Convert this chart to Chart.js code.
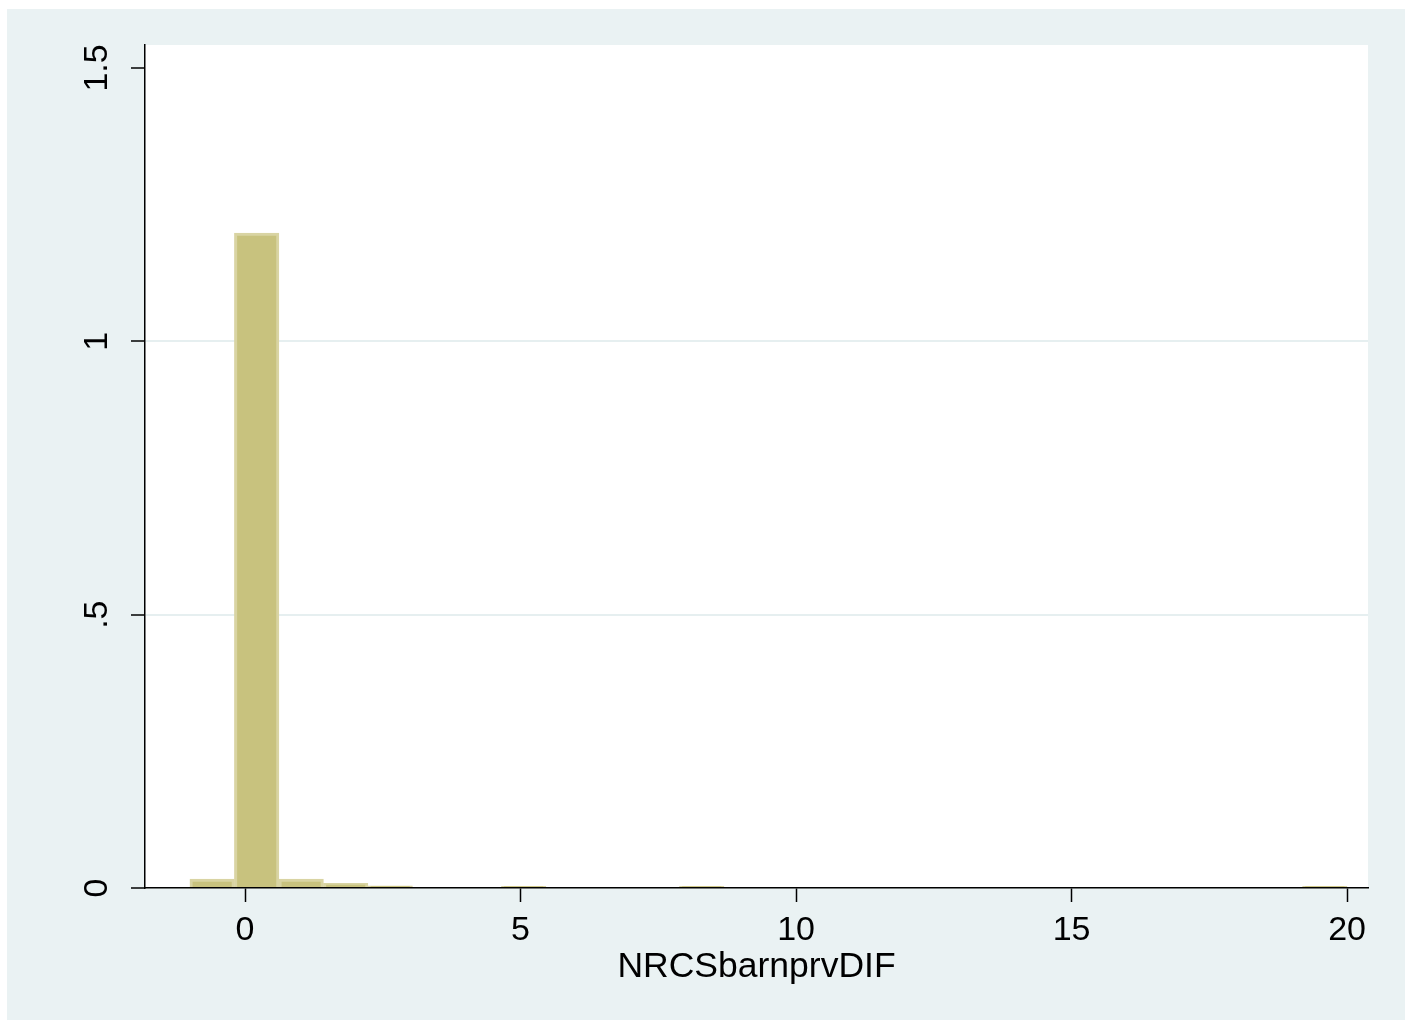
<!DOCTYPE html>
<html>
<head>
<meta charset="utf-8">
<script src="https://cdn.jsdelivr.net/npm/chart.js@4"></script>
<style>
  html, body { margin: 0; padding: 0; background: #ffffff; }
  #wrap { width: 1411px; height: 1021px; }
</style>
</head>
<body>
<div id="wrap"><canvas id="histChart" width="1411" height="1021"></canvas></div>
<script>
// histogram of NRCSbarnprvDIF: 26 bins from -1 to 20
const binStart = -1;
const binWidth = 21 / 26;
const density = [
  0.0165, 1.198, 0.0165, 0.0086, 0.004, 0, 0, 0.003, 0, 0,
  0, 0.003, 0, 0, 0, 0, 0, 0, 0, 0,
  0, 0, 0, 0, 0, 0.003
];
const xTicks = [0, 5, 10, 15, 20];
const yTicks = [0, 0.5, 1, 1.5];
const yTickLabels = ['0', '.5', '1', '1.5'];
const xTitle = 'NRCSbarnprvDIF';

const binCenters = density.map((d, i) => binStart + binWidth * (i + 0.5));

const panelBg = {
  id: 'panelBg',
  beforeDraw(chart) {
    const ctx = chart.ctx;
    const a = chart.chartArea;
    ctx.save();
    ctx.fillStyle = '#ffffff';
    ctx.fillRect(0, 0, chart.width, chart.height);
    ctx.fillStyle = '#eaf2f3';
    ctx.fillRect(7, 9, 1398, 1011);
    ctx.fillStyle = '#ffffff';
    ctx.fillRect(a.left, a.top, a.right - a.left, a.bottom - a.top);
    ctx.restore();
  }
};

const font = { family: '"Liberation Sans", Arial, sans-serif', size: 34 };

new Chart(document.getElementById('histChart').getContext('2d'), {
  type: 'bar',
  data: {
    datasets: [{
      data: binCenters.map((x, i) => ({ x: x, y: density[i] })),
      backgroundColor: '#c8c27e',
      borderColor: '#d9d4a3',
      borderWidth: 3,
      barPercentage: 1,
      categoryPercentage: 1
    }]
  },
  options: {
    responsive: false,
    animation: false,
    layout: { padding: { left: 0, top: 45, right: 43, bottom: 0 } },
    plugins: { legend: { display: false }, tooltip: { enabled: false } },
    scales: {
      x: {
        type: 'linear',
        min: -1.815,
        max: 20.38,
        offset: false,
        z: 1,
        afterFit: s => { s.height = 133; },
        afterBuildTicks: s => { s.ticks = xTicks.map(v => ({ value: v })); },
        grid: { offset: false, drawOnChartArea: false, drawTicks: true, tickLength: 14, tickColor: '#000', tickWidth: 1.5 },
        border: { display: true, color: '#000', width: 1.5 },
        ticks: { color: '#000', font: font, padding: 8, maxRotation: 0, autoSkip: false,
                 callback: v => String(v) },
        title: { display: true, text: xTitle, color: '#000',
                 font: { family: font.family, size: 35.5 }, padding: { top: 0, bottom: 32 } }
      },
      y: {
        type: 'linear',
        min: 0,
        max: 1.542,
        afterFit: s => { s.width = 145; },
        afterBuildTicks: s => { s.ticks = yTicks.map(v => ({ value: v })); },
        grid: {
          drawOnChartArea: true,
          color: c => (c.tick && (c.tick.value === 0.5 || c.tick.value === 1)) ? '#e6eff0' : 'rgba(0,0,0,0)',
          lineWidth: 2,
          drawTicks: true, tickLength: 14, tickColor: '#000', tickWidth: 1.5
        },
        border: { display: true, color: '#000', width: 1.5 },
        ticks: {
          color: '#000', font: font, padding: 10, autoSkip: false,
          minRotation: 90, maxRotation: 90, crossAlign: 'center',
          callback: v => yTickLabels[yTicks.indexOf(v)]
        }
      }
    }
  },
  plugins: [panelBg]
});
</script>
</body>
</html>
